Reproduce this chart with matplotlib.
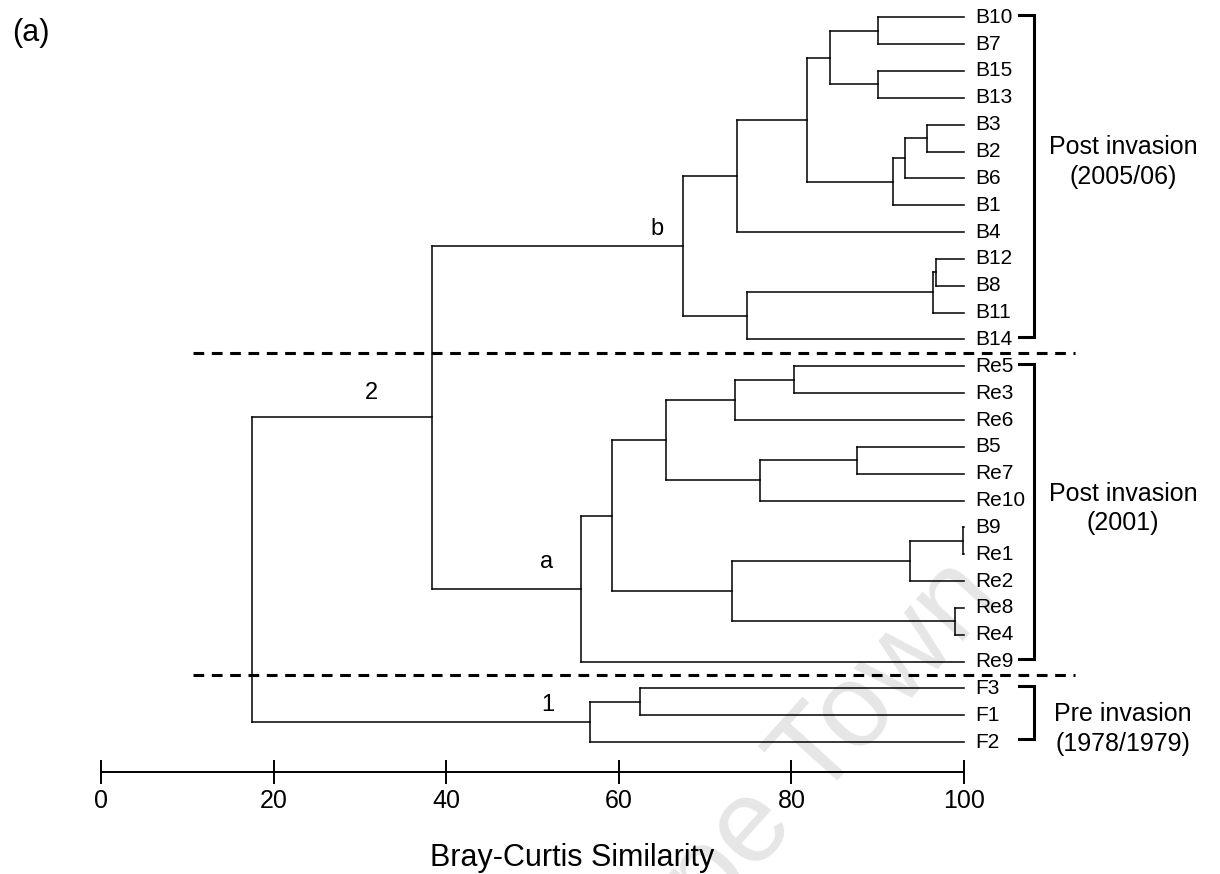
import matplotlib.pyplot as plt

plt.rcParams['font.family'] = ['Liberation Sans', 'DejaVu Sans']

# leaf order, top to bottom
leaves = ['B10', 'B7', 'B15', 'B13', 'B3', 'B2', 'B6', 'B1', 'B4',
          'B12', 'B8', 'B11', 'B14',
          'Re5', 'Re3', 'Re6', 'B5', 'Re7', 'Re10', 'B9', 'Re1', 'Re2',
          'Re8', 'Re4', 'Re9',
          'F3', 'F1', 'F2']

# merges: (node, left child, right child, Bray-Curtis similarity)
merges = [
    ('n1', 'B10', 'B7', 90.0),
    ('n2', 'B15', 'B13', 90.0),
    ('n3', 'n1', 'n2', 84.5),
    ('n4', 'B3', 'B2', 95.7),
    ('n5', 'n4', 'B6', 93.2),
    ('n6', 'n5', 'B1', 91.8),
    ('n7', 'n3', 'n6', 81.8),
    ('n8', 'n7', 'B4', 73.7),
    ('n9', 'B12', 'B8', 96.8),
    ('n10', 'n9', 'B11', 96.4),
    ('n11', 'n10', 'B14', 74.9),
    ('n12', 'n8', 'n11', 67.4),
    ('n13', 'Re5', 'Re3', 80.3),
    ('n14', 'n13', 'Re6', 73.5),
    ('n15', 'B5', 'Re7', 87.6),
    ('n16', 'n15', 'Re10', 76.4),
    ('n17', 'n14', 'n16', 65.5),
    ('n18', 'B9', 'Re1', 99.9),
    ('n19', 'n18', 'Re2', 93.7),
    ('n20', 'Re8', 'Re4', 98.9),
    ('n21', 'n19', 'n20', 73.1),
    ('n22', 'n17', 'n21', 59.2),
    ('n23', 'n22', 'Re9', 55.6),
    ('n24', 'n12', 'n23', 38.4),
    ('n25', 'F3', 'F1', 62.5),
    ('n26', 'n25', 'F2', 56.7),
    ('n27', 'n24', 'n26', 17.5),
]

# cluster labels on the branches: text, node, x shift, y shift
node_labels = [('b', 'n12', -3.0, -0.63),
               ('a', 'n23', -4.0, -1.0),
               ('2', 'n24', -7.1, -0.92),
               ('1', 'n26', -4.9, -0.62)]

groups = ['Post invasion\n(2005/06)', 'Post invasion\n(2001)',
          'Pre invasion\n(1978/1979)']
group_first = ['B10', 'Re5', 'F3']
group_last = ['B14', 'Re9', 'F2']
group_shift = [-0.6, -0.2, 0.5]

xticks = [0, 20, 40, 60, 80, 100]

# node positions
ypos = {name: i for i, name in enumerate(leaves)}
xpos = {name: 100.0 for name in leaves}
for node, a, b, sim in merges:
    ypos[node] = (ypos[a] + ypos[b]) / 2
    xpos[node] = sim

fig = plt.figure(figsize=(12.2, 8.74), dpi=100)
ax = fig.add_axes([0, 0, 1, 1])
ax.set_xlim(-11.70, 129.66)
ax.set_ylim(31.91, -0.644)

# faint watermark behind the tree
ax.text(1002 / 1220, 1 - 598 / 874, 'Cape Town', transform=fig.transFigure,
        fontsize=85, color='#e6e6e6', rotation=48, rotation_mode='anchor',
        ha='right', va='baseline', zorder=0.5)

lw = 1.1
for node, a, b, sim in merges:
    ax.plot([sim, sim], [ypos[a], ypos[b]], color='black', lw=lw)
    for child in (a, b):
        ax.plot([sim, xpos[child]], [ypos[child], ypos[child]], color='black', lw=lw)

for name in leaves:
    ax.text(101.3, ypos[name], name, fontsize=15, ha='left', va='center')

for txt, node, dx, dy in node_labels:
    ax.text(xpos[node] + dx, ypos[node] + dy, txt, fontsize=17,
            ha='center', va='center')

# dashed separators between the groups
for first in group_first[1:]:
    y = ypos[first] - 0.5
    ax.plot([10.7, 112.9], [y, y], color='black', lw=2.2,
            linestyle=(0, (3.5, 2.5)))

# group brackets
for txt, first, last, dy in zip(groups, group_first, group_last, group_shift):
    y0, y1 = ypos[first] - 0.1, ypos[last] - 0.1
    ax.plot([106.4, 108.1, 108.1, 106.4], [y0, y0, y1, y1], color='black',
            lw=2.2, solid_joinstyle='miter')
    ax.text(118.4, (ypos[first] + ypos[last]) / 2 + dy, txt, fontsize=18,
            ha='center', va='center', linespacing=1.3)

# similarity axis
for side in ['top', 'left', 'right']:
    ax.spines[side].set_visible(False)
ax.spines['bottom'].set_position(('data', 28.1))
ax.spines['bottom'].set_bounds(0, 100)
ax.spines['bottom'].set_linewidth(1.4)
ax.set_yticks([])
ax.set_xticks(xticks)
ax.tick_params(axis='x', direction='inout', length=17, width=1.4,
               labelsize=18, pad=4)
ax.set_xlabel('Bray-Curtis Similarity', fontsize=22)
ax.xaxis.set_label_coords(572.5 / 1220, 31 / 874)

fig.text(12 / 1220, 1 - 32.5 / 874, '(a)', fontsize=22, ha='left', va='center')

fig.savefig('out.png', dpi=100)
